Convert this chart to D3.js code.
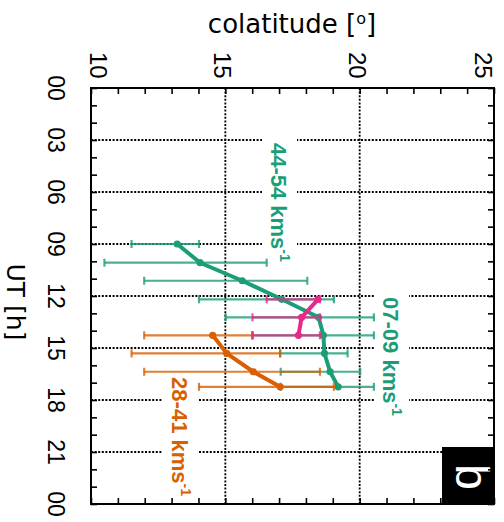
<!DOCTYPE html>
<html>
<head>
<meta charset="utf-8">
<script src="https://cdn.jsdelivr.net/npm/d3@7"></script>
<style>
  body { margin: 0; background: #fff; }
  svg { display: block; }
</style>
</head>
<body>
<svg id="chart" width="504" height="522"></svg>
<script>
// Axis ticks
const utTickValues = [0, 3, 6, 9, 12, 15, 18, 21, 24];
const utTickLabels = ["00", "03", "06", "09", "12", "15", "18", "21", "00"];
const colatTickValues = [10, 15, 20, 25];

// green band
const greenUT    = [9.0, 10.08, 11.12, 12.19, 13.23, 14.27, 15.31, 16.37, 17.24];
const greenColat = [13.21, 14.06, 15.63, 17.10, 18.47, 18.65, 18.69, 18.90, 19.20];
const greenLo    = [11.51, 10.50, 11.98, 14.02, 15.01, 16.01, 17.04, 17.06, 17.06];
const greenHi    = [14.02, 16.54, 18.05, 19.04, 20.53, 20.53, 19.55, 20.02, 20.53];

// pink band
const pinkUT    = [12.19, 13.23, 14.27];
const pinkColat = [18.45, 17.84, 17.72];
const pinkLo    = [16.54, 16.01, 16.01];
const pinkHi    = [18.52, 18.52, 18.52];

// 28-41 km/s band (orange)
const orangeUT    = [14.27, 15.31, 16.37, 17.24];
const orangeColat = [14.53, 15.05, 16.04, 17.04];
const orangeLo    = [11.98, 11.51, 11.98, 14.02];
const orangeHi    = [16.01, 17.04, 18.52, 19.04];

// Band labels: text, colour, anchor (colatitude of baseline, UT of first glyph)
const labelTexts  = ["44-54 kms", "07-09 kms", "28-41 kms"];
const labelColors = ["#1b9e77", "#1b9e77", "#d95f02"];
const labelColat  = [16.70, 20.87, 13.01];
const labelUT     = [3.17, 12.06, 16.68];

const colors = { green: "#1b9e77", orange: "#d95f02", pink: "#e7298a" };

const svg = d3.select("#chart");
const plotL = 91, plotR = 494, plotT = 88, plotB = 504;

const x = d3.scaleLinear().domain([10, 25]).range([plotL, plotR]);
const y = d3.scaleLinear().domain([0, 24]).range([plotT, plotB]);

// white plot area
svg.append("rect").attr("x", plotL).attr("y", plotT)
  .attr("width", plotR - plotL).attr("height", plotB - plotT).attr("fill", "#fff");

// dotted grid
const grid = svg.append("g").attr("stroke", "#000").attr("stroke-width", 1.8)
  .attr("stroke-dasharray", "2,1.6");
grid.selectAll("line.h").data(utTickValues.filter(v => v > 0 && v < 24)).join("line")
  .attr("class", "h").attr("x1", plotL).attr("x2", plotR)
  .attr("y1", d => y(d)).attr("y2", d => y(d));
grid.selectAll("line.v").data(colatTickValues.filter(v => v > 10 && v < 25)).join("line")
  .attr("class", "v").attr("y1", plotT).attr("y2", plotB)
  .attr("x1", d => x(d)).attr("x2", d => x(d));

// label layer (boxes are added below the text once it is measured)
const boxLayer = svg.append("g");
const dataLayer = svg.append("g");
const textLayer = svg.append("g");

function drawSeries(ut, colat, lo, hi, color) {
  const g = dataLayer.append("g");
  const rows = ut.map((u, i) => ({ u, c: colat[i], lo: lo[i], hi: hi[i] }));
  const eb = g.append("g").attr("stroke", color).attr("stroke-width", 2.2)
    .attr("stroke-opacity", 0.8).attr("fill", "none");
  eb.selectAll("line.bar").data(rows).join("line").attr("class", "bar")
    .attr("x1", d => x(d.lo)).attr("x2", d => x(d.hi))
    .attr("y1", d => y(d.u)).attr("y2", d => y(d.u));
  eb.selectAll("line.capl").data(rows).join("line").attr("class", "capl")
    .attr("x1", d => x(d.lo)).attr("x2", d => x(d.lo))
    .attr("y1", d => y(d.u) - 4).attr("y2", d => y(d.u) + 4);
  eb.selectAll("line.caph").data(rows).join("line").attr("class", "caph")
    .attr("x1", d => x(d.hi)).attr("x2", d => x(d.hi))
    .attr("y1", d => y(d.u) - 4).attr("y2", d => y(d.u) + 4);
  const line = d3.line().x(d => x(d.c)).y(d => y(d.u));
  g.append("path").datum(rows).attr("d", line).attr("fill", "none")
    .attr("stroke", color).attr("stroke-width", 4).attr("stroke-linejoin", "round")
    .attr("stroke-linecap", "round");
  g.selectAll("circle").data(rows).join("circle")
    .attr("cx", d => x(d.c)).attr("cy", d => y(d.u)).attr("r", 3.6).attr("fill", color);
}

drawSeries(greenUT, greenColat, greenLo, greenHi, colors.green);
drawSeries(orangeUT, orangeColat, orangeLo, orangeHi, colors.orange);
drawSeries(pinkUT, pinkColat, pinkLo, pinkHi, colors.pink);

// band labels, rotated to read downwards
labelTexts.forEach((t, i) => {
  const tx = x(labelColat[i]), ty = y(labelUT[i]);
  const txt = textLayer.append("text")
    .attr("transform", `translate(${tx},${ty}) rotate(90)`)
    .attr("font-family", "Liberation Sans, Arial, sans-serif")
    .attr("font-size", 22).attr("font-weight", "bold")
    .attr("fill", labelColors[i]);
  txt.append("tspan").text(t);
  txt.append("tspan").attr("font-size", 14).attr("dy", -9).text("-1");
  const b = txt.node().getBBox();
  const pad = 6;
  boxLayer.append("rect")
    .attr("x", tx - (b.y + b.height) - pad + 2)
    .attr("y", ty + b.x - pad)
    .attr("width", b.height + 2 * pad - 4)
    .attr("height", b.width + 2 * pad)
    .attr("fill", "#fff");
});

// panel letter
svg.append("rect").attr("x", 442).attr("y", 447).attr("width", plotR - 442).attr("height", plotB - 447)
  .attr("fill", "#000");
svg.append("text")
  .attr("transform", `translate(456,477) rotate(90)`)
  .attr("text-anchor", "middle")
  .attr("font-family", "Liberation Sans, Arial, sans-serif")
  .attr("font-size", 46).attr("fill", "#fff").text("b");

// inward ticks on all four sides
const tickLen = 6;
const colatMinor = d3.range(10, 26, 1);
const utMinor = d3.range(0, 25, 1);
svg.append("g").attr("transform", `translate(0,${plotT})`)
  .call(d3.axisTop(x).tickValues(colatMinor).tickSize(-tickLen).tickFormat(""))
  .call(g => g.select(".domain").remove());
svg.append("g").attr("transform", `translate(0,${plotB})`)
  .call(d3.axisBottom(x).tickValues(colatMinor).tickSize(-tickLen).tickFormat(""))
  .call(g => g.select(".domain").remove());
svg.append("g").attr("transform", `translate(${plotL},0)`)
  .call(d3.axisLeft(y).tickValues(utMinor).tickSize(-tickLen).tickFormat(""))
  .call(g => g.select(".domain").remove());
svg.append("g").attr("transform", `translate(${plotR},0)`)
  .call(d3.axisRight(y).tickValues(utMinor).tickSize(-tickLen).tickFormat(""))
  .call(g => g.select(".domain").remove());
svg.selectAll(".tick line").attr("stroke", "#000").attr("stroke-width", 1.6);

// frame
svg.append("rect").attr("x", plotL).attr("y", plotT)
  .attr("width", plotR - plotL).attr("height", plotB - plotT)
  .attr("fill", "none").attr("stroke", "#000").attr("stroke-width", 2);

// colatitude tick labels (rotated, kept inside the frame at the ends)
const tickFont = "Liberation Sans, Arial, sans-serif";
svg.append("g").selectAll("text").data(colatTickValues).join("text")
  .attr("transform", d => {
    const bx = Math.max(plotL - 1, Math.min(plotR - 19, x(d) - 11));
    return `translate(${bx},52) rotate(90)`;
  })
  .attr("font-family", tickFont).attr("font-size", 24).attr("fill", "#000")
  .text(d => String(d));

// UT tick labels
svg.append("g").selectAll("text").data(utTickValues).join("text")
  .attr("transform", d => `translate(48,${y(d)}) rotate(90)`)
  .attr("text-anchor", "middle")
  .attr("font-family", tickFont).attr("font-size", 23).attr("fill", "#000")
  .text((d, i) => utTickLabels[i]);

// axis titles
const title = svg.append("text").attr("x", 292).attr("y", 33).attr("text-anchor", "middle")
  .attr("font-family", "DejaVu Sans, sans-serif").attr("font-size", 26).attr("fill", "#000");
title.append("tspan").text("colatitude [");
title.append("tspan").attr("font-size", 16).attr("dy", -9).text("o");
title.append("tspan").attr("dy", 9).text("]");

svg.append("text").attr("transform", `translate(7,302) rotate(90)`)
  .attr("text-anchor", "middle")
  .attr("font-family", "DejaVu Sans, sans-serif").attr("font-size", 25).attr("fill", "#000")
  .text("UT [h]");
</script>
</body>
</html>
